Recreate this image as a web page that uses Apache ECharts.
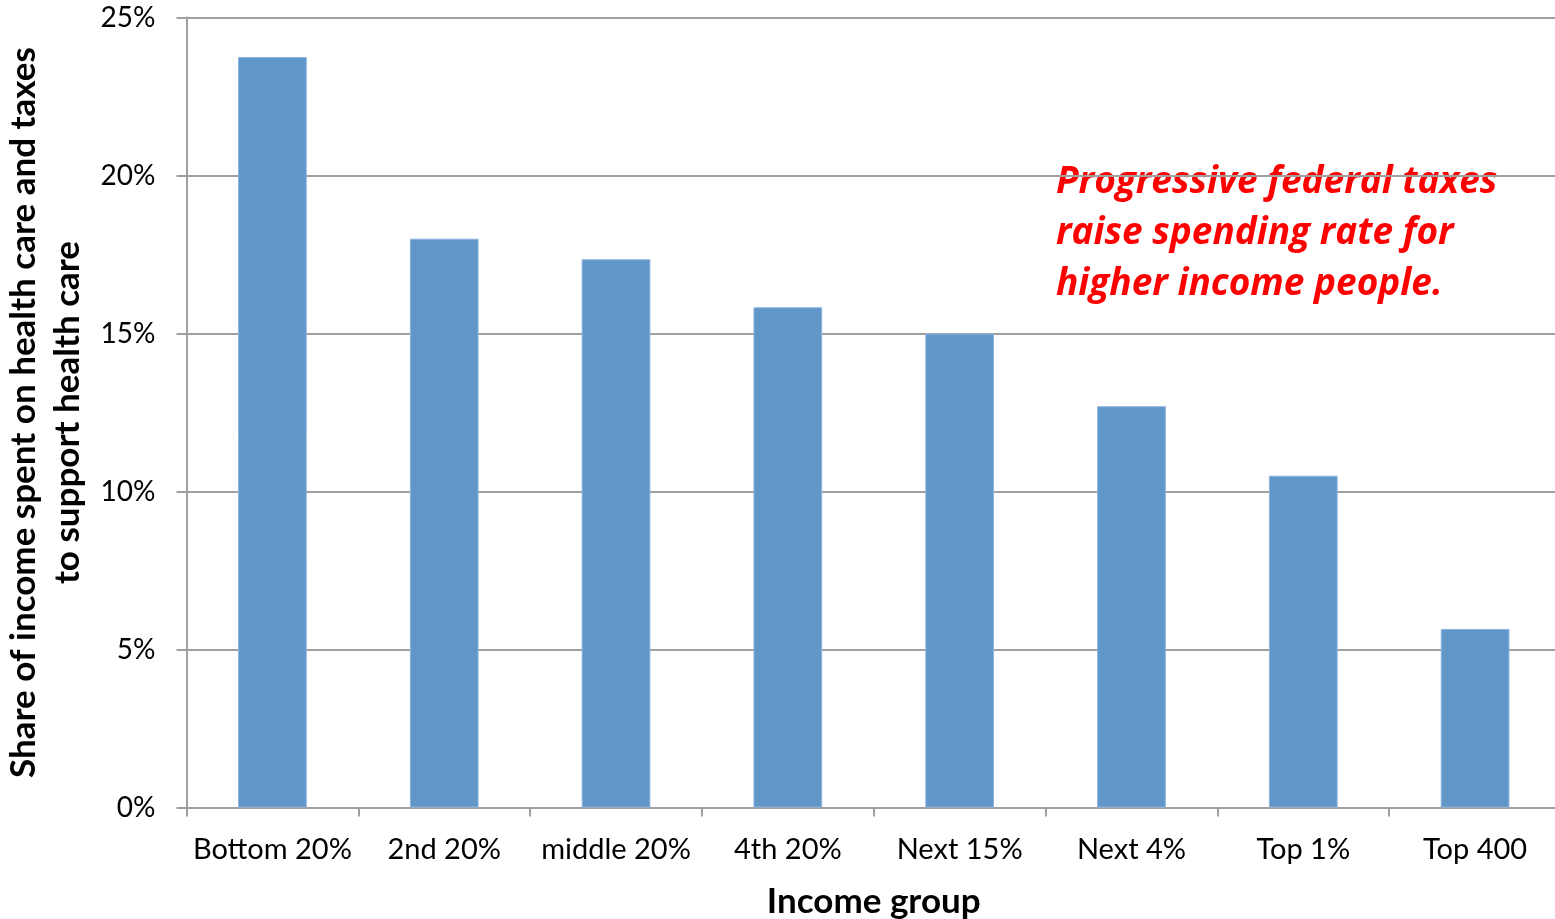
<!DOCTYPE html>
<html>
<head>
<meta charset="utf-8">
<script src="https://cdn.jsdelivr.net/npm/echarts@6/dist/echarts.min.js"></script>
<style>
  html, body { margin: 0; padding: 0; background: #fff; }
  #chart { width: 1555px; height: 919px; }
</style>
</head>
<body>
<div id="chart"></div>
<script>
// Income groups and share of income spent on health care (percent)
const categories = ['Bottom 20%', '2nd 20%', 'middle 20%', '4th 20%', 'Next 15%', 'Next 4%', 'Top 1%', 'Top 400'];
const shareSpent = [23.75, 18.0, 17.35, 15.83, 15.0, 12.7, 10.5, 5.65];
const yTicks = [0, 5, 10, 15, 20, 25];

const FONT = 'Lato';
const chart = echarts.init(document.getElementById('chart'));

chart.setOption({
  animation: false,
  backgroundColor: '#ffffff',
  textStyle: { fontFamily: FONT },
  grid: { left: 186.5, right: -6, top: 17.5, bottom: 111.5, containLabel: false, outerBoundsMode: 'none' },
  xAxis: {
    type: 'category',
    data: categories,
    boundaryGap: true,
    axisLine: { show: true, lineStyle: { color: '#a0a0a0', width: 2 } },
    axisTick: { show: true, length: 9, lineStyle: { color: '#a0a0a0', width: 2 } },
    axisLabel: { color: '#000', fontSize: 29, fontFamily: FONT, margin: 28, interval: 0 },
    name: 'Income group',
    nameLocation: 'middle',
    nameGap: 77,
    nameTextStyle: { color: '#000', fontSize: 35, fontWeight: 'bold', fontFamily: FONT }
  },
  yAxis: {
    type: 'value',
    min: yTicks[0],
    max: yTicks[yTicks.length - 1],
    interval: 5,
    axisLine: { show: true, lineStyle: { color: '#a0a0a0', width: 2 } },
    axisTick: { show: true, length: 10, lineStyle: { color: '#a0a0a0', width: 2 } },
    axisLabel: { color: '#000', fontSize: 28, fontFamily: FONT, margin: 31, formatter: v => v + '%' },
    splitLine: { show: true, lineStyle: { color: '#a0a0a0', width: 2 } },
    name: 'Share of income spent on health care and taxes\nto support health care',
    nameLocation: 'middle',
    nameRotate: 90,
    nameGap: 90,
    nameTextStyle: { color: '#000', fontSize: 35, fontWeight: 'bold', fontFamily: FONT, lineHeight: 44, align: 'center' }
  },
  series: [{
    type: 'bar',
    data: shareSpent,
    barWidth: '40%',
    itemStyle: { color: '#6096c8', borderColor: '#8db4e0', borderWidth: 1 }
  }],
  graphic: [{
    type: 'text',
    left: 1056,
    top: 157,
    style: {
      text: 'Progressive federal taxes\nraise spending rate for\nhigher income people.',
      fill: '#ff0000',
      font: 'italic bold 37px "Open Sans"',
      lineHeight: 51
    }
  }]
});
</script>
</body>
</html>
